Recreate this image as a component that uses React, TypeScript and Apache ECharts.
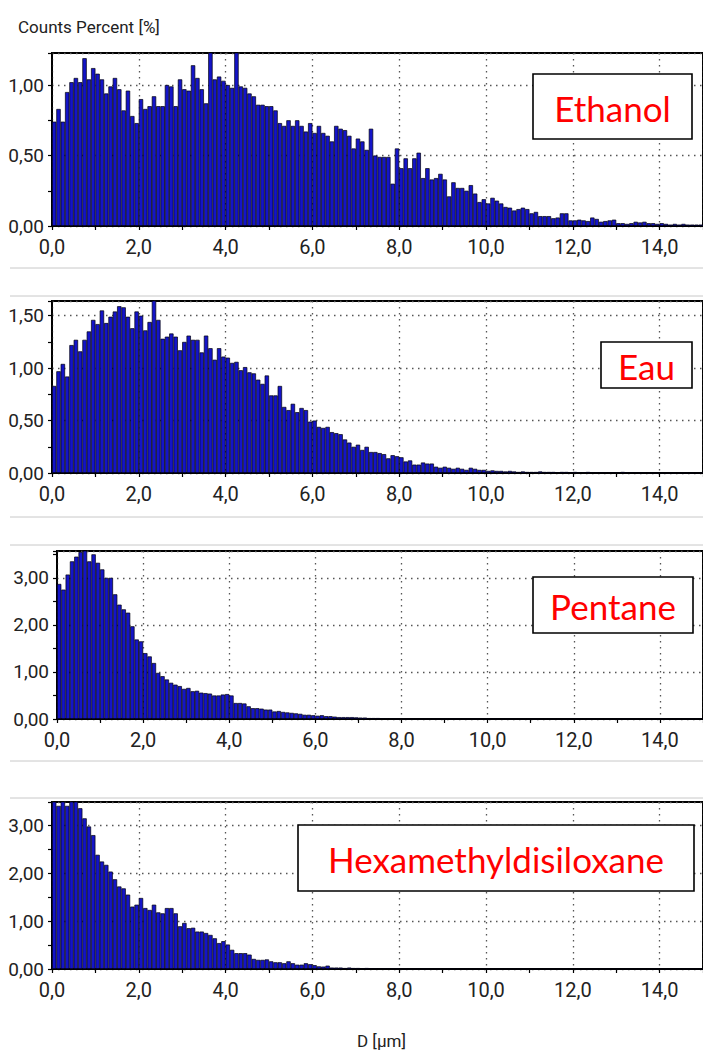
import React, { useEffect, useRef } from "react";
import * as echarts from "echarts";

// Particle size histograms, bin width 0.1 µm, from 0 to 15 µm
const BIN_WIDTH = 0.1;

const ethanol = [
  0.74, 0.83, 0.74, 0.95, 1.02, 1.05, 1.02, 1.19, 1.04, 1.12,
  1.08, 1.04, 0.94, 0.99, 1.05, 0.97, 0.82, 0.96, 0.78, 0.73,
  0.90, 0.83, 0.85, 0.92, 0.85, 0.85, 1.00, 0.99, 0.85, 1.04,
  0.97, 0.96, 1.14, 1.05, 0.97, 0.87, 1.30, 1.04, 1.06, 1.03,
  1.00, 0.98, 1.30, 0.99, 0.98, 0.94, 0.92, 0.86, 0.86, 0.85,
  0.85, 0.82, 0.73, 0.71, 0.75, 0.71, 0.75, 0.71, 0.67, 0.73,
  0.66, 0.71, 0.66, 0.64, 0.60, 0.71, 0.69, 0.68, 0.64, 0.55,
  0.62, 0.60, 0.54, 0.69, 0.50, 0.49, 0.49, 0.49, 0.30, 0.55,
  0.41, 0.48, 0.41, 0.48, 0.52, 0.34, 0.41, 0.33, 0.34, 0.37,
  0.33, 0.21, 0.31, 0.27, 0.27, 0.25, 0.29, 0.23, 0.17, 0.19,
  0.16, 0.20, 0.18, 0.16, 0.135, 0.13, 0.11, 0.12, 0.13, 0.12,
  0.09, 0.10, 0.07, 0.07, 0.07, 0.055, 0.06, 0.09, 0.09, 0.04,
  0.04, 0.045, 0.04, 0.035, 0.06, 0.05, 0.03, 0.035, 0.04, 0.045,
  0.02, 0.02, 0.015, 0.02, 0.03, 0.025, 0.03, 0.02, 0.02, 0.015,
  0.02, 0.015, 0.01, 0.015, 0.01, 0.015, 0.01, 0.01, 0.01, 0.01,
];

const eau = [
  0.83, 0.97, 1.04, 0.92, 1.22, 1.27, 1.16, 1.27, 1.35, 1.46,
  1.42, 1.55, 1.43, 1.49, 1.54, 1.59, 1.58, 1.49, 1.38, 1.54,
  1.50, 1.36, 1.44, 1.66, 1.46, 1.28, 1.30, 1.33, 1.30, 1.17,
  1.25, 1.31, 1.27, 1.27, 1.15, 1.31, 1.19, 1.08, 1.19, 1.11,
  1.10, 1.05, 1.06, 0.98, 1.01, 0.96, 0.95, 0.89, 0.85, 0.93,
  0.74, 0.74, 0.83, 0.63, 0.60, 0.66, 0.58, 0.62, 0.60, 0.49,
  0.50, 0.44, 0.43, 0.44, 0.39, 0.38, 0.37, 0.32, 0.29, 0.25,
  0.27, 0.22, 0.25, 0.20, 0.20, 0.19, 0.18, 0.14, 0.17, 0.16,
  0.15, 0.11, 0.12, 0.08, 0.08, 0.10, 0.09, 0.09, 0.06, 0.05,
  0.06, 0.05, 0.04, 0.05, 0.04, 0.03, 0.05, 0.04, 0.03, 0.03,
  0.02, 0.025, 0.02, 0.02, 0.015, 0.02, 0.015, 0.01, 0.015, 0.01,
  0.01, 0.01, 0.015, 0.01, 0.01, 0.01, 0.005, 0.01, 0.01, 0.005,
  0.01, 0.005, 0.005, 0.01, 0.005, 0.005, 0.005, 0.005, 0.005, 0.005,
  0.005, 0.01, 0.005, 0.005, 0.005, 0, 0.005, 0, 0, 0,
  0, 0, 0, 0, 0, 0, 0, 0, 0, 0,
];

const pentane = [
  2.87, 2.75, 3.07, 3.35, 3.45, 3.55, 3.70, 3.35, 3.50, 3.32,
  3.18, 3.00, 3.00, 2.65, 2.43, 2.33, 2.26, 1.97, 1.69, 1.65,
  1.40, 1.33, 1.19, 0.98, 0.91, 0.84, 0.77, 0.73, 0.70, 0.64,
  0.66, 0.59, 0.60, 0.56, 0.55, 0.54, 0.50, 0.50, 0.52, 0.53,
  0.50, 0.34, 0.34, 0.33, 0.27, 0.23, 0.23, 0.22, 0.20, 0.20,
  0.16, 0.17, 0.15, 0.14, 0.13, 0.12, 0.11, 0.09, 0.09, 0.08,
  0.07, 0.08, 0.06, 0.06, 0.05, 0.04, 0.04, 0.04, 0.04, 0.035,
  0.03, 0.03, 0.02, 0.02, 0.02, 0.015, 0.015, 0.01, 0.005, 0,
  0, 0, 0, 0, 0, 0, 0, 0, 0, 0,
  0, 0, 0, 0, 0, 0, 0, 0, 0, 0,
  0, 0, 0, 0, 0, 0, 0, 0, 0, 0,
  0, 0, 0, 0, 0, 0, 0, 0, 0, 0,
  0, 0, 0, 0, 0, 0, 0, 0, 0, 0,
  0, 0, 0, 0, 0, 0, 0, 0, 0, 0,
  0, 0, 0, 0, 0, 0, 0, 0, 0, 0,
];

const hexamethyldisiloxane = [
  3.60, 3.40, 3.60, 3.40, 3.60, 3.60, 3.35, 3.14, 2.97, 2.79,
  2.38, 2.24, 2.17, 2.03, 1.87, 1.72, 1.68, 1.55, 1.30, 1.34,
  1.48, 1.27, 1.23, 1.34, 1.18, 1.16, 1.27, 1.27, 1.16, 0.89,
  0.96, 0.85, 0.86, 0.78, 0.78, 0.75, 0.71, 0.64, 0.54, 0.58,
  0.51, 0.40, 0.33, 0.33, 0.33, 0.30, 0.21, 0.19, 0.19, 0.20,
  0.16, 0.14, 0.14, 0.12, 0.16, 0.12, 0.09, 0.09, 0.12, 0.10,
  0.08, 0.055, 0.05, 0.07, 0.03, 0.03, 0.03, 0.02, 0.03, 0.02,
  0.02, 0.01, 0.02, 0.015, 0.01, 0.01, 0.01, 0.015, 0.01, 0.01,
  0, 0, 0, 0, 0, 0, 0, 0, 0, 0,
  0, 0, 0, 0, 0, 0, 0, 0, 0, 0,
  0, 0, 0, 0, 0, 0, 0, 0, 0, 0,
  0, 0, 0, 0, 0, 0, 0, 0, 0, 0,
  0, 0, 0, 0, 0, 0, 0, 0, 0, 0,
  0, 0, 0, 0, 0, 0, 0, 0, 0, 0,
  0, 0, 0, 0, 0, 0, 0, 0, 0, 0,
];

const labels = ["Ethanol", "Eau", "Pentane", "Hexamethyldisiloxane"];
const yMax = [1.227, 1.64, 3.57, 3.48];
const yInterval = [0.5, 0.5, 1, 1];
const xMin = 0;
const xMax = 15;
const xInterval = 2;
const yTitle = "Counts Percent [%]";
const xTitle = "D [µm]";

const W = 703;
const H = 1051;
const grids = [
  { left: 52, top: 53, width: 657, height: 173 },
  { left: 52, top: 301, width: 657, height: 172 },
  { left: 57, top: 551, width: 654, height: 168 },
  { left: 52, top: 802, width: 657, height: 167 },
];
const boxes = [
  { x: 533, y: 74, w: 159, h: 65 },
  { x: 601, y: 342, w: 91, h: 46 },
  { x: 533, y: 577, w: 160, h: 56 },
  { x: 298, y: 825, w: 396, h: 66 },
];
const separators = [268, 296, 517, 545, 761, 798];

const FONT = "Roboto, 'Liberation Sans', sans-serif";

export default function App() {
  const ref = useRef<HTMLDivElement>(null);
  useEffect(() => {
    if (!ref.current) return;
    const chart = echarts.init(ref.current, undefined, { renderer: "svg" });
    const allSeries = [ethanol, eau, pentane, hexamethyldisiloxane];

    const xAxes = grids.map((_, i) => ({
      type: "value",
      gridIndex: i,
      min: xMin,
      max: xMax,
      interval: xInterval,
      position: "bottom",
      axisLine: { show: true, lineStyle: { color: "#000", width: 2 } },
      axisTick: { show: true, length: 4, lineStyle: { color: "#000", width: 1.2 } },
      minorTick: { show: true, splitNumber: 2, length: 4, lineStyle: { color: "#000", width: 1.2 } },
      axisLabel: {
        show: true,
        margin: 11,
        fontSize: 20,
        fontFamily: FONT,
        color: "#222",
        showMaxLabel: false,
        formatter: (v: number) => v.toFixed(1).replace(".", ","),
      },
      splitLine: { show: true, lineStyle: { color: "#555", width: 1.3, type: [1.5, 4.5] } },
      minorSplitLine: { show: false },
      z: 1,
    }));

    const yAxes = grids.map((_, i) => ({
      type: "value",
      gridIndex: i,
      min: 0,
      max: yMax[i],
      interval: yInterval[i],
      axisLine: { show: true, lineStyle: { color: "#000", width: 1.5 } },
      axisTick: { show: true, length: 4, lineStyle: { color: "#000", width: 1.2 } },
      minorTick: { show: true, splitNumber: 2, length: 4, lineStyle: { color: "#000", width: 1.2 } },
      axisLabel: {
        show: true,
        margin: 8,
        fontSize: 19,
        fontFamily: FONT,
        color: "#222",
        showMaxLabel: false,
        formatter: (v: number) => v.toFixed(2).replace(".", ","),
      },
      splitLine: { show: true, lineStyle: { color: "#555", width: 1.3, type: [1.5, 4.5] } },
      z: 1,
    }));

    const series = allSeries.map((vals, i) => ({
      type: "bar",
      xAxisIndex: i,
      yAxisIndex: i,
      data: vals.map((v, k) => [+(k * BIN_WIDTH + BIN_WIDTH / 2).toFixed(3), v]),
      barWidth: (grids[i].width / (xMax - xMin)) * BIN_WIDTH,
      clip: true,
      itemStyle: { color: "#1414c8", borderColor: "#00000c", borderWidth: 0.7 },
      z: 2,
    }));

    const graphics: any[] = [];
    separators.forEach((y) => {
      graphics.push({
        type: "line",
        shape: { x1: 10, y1: y, x2: W, y2: y },
        style: { stroke: "#c8c8c8", lineWidth: 1 },
        z: 0,
      });
    });
    boxes.forEach((b, i) => {
      graphics.push({
        type: "rect",
        shape: { x: b.x, y: b.y, width: b.w, height: b.h },
        style: { fill: "#fff", stroke: "#000", lineWidth: 1.6 },
        z: 10,
      });
      graphics.push({
        type: "text",
        x: b.x + b.w / 2,
        y: b.y + b.h / 2 + 1,
        style: {
          text: labels[i],
          fill: "#ff0000",
          font: "35px Lato, 'Open Sans', sans-serif",
          align: "center",
          verticalAlign: "middle",
        },
        z: 11,
      });
    });
    graphics.push({
      type: "text",
      x: 18,
      y: 27,
      style: { text: yTitle, fill: "#222", font: `17px ${FONT}`, verticalAlign: "middle" },
      z: 11,
    });
    graphics.push({
      type: "text",
      x: 357,
      y: 1041,
      style: { text: xTitle, fill: "#222", font: `17px ${FONT}`, verticalAlign: "middle" },
      z: 11,
    });

    chart.setOption({
      animation: false,
      backgroundColor: "#fff",
      grid: grids.map((g) => ({
        ...g,
        show: true,
        borderColor: "#000",
        borderWidth: 2,
        backgroundColor: "transparent",
        containLabel: false,
      })),
      xAxis: xAxes,
      yAxis: yAxes,
      series,
      graphic: graphics,
    } as any);

    return () => chart.dispose();
  }, []);

  return (
    <div
      ref={ref}
      style={{ position: "absolute", left: 0, top: 0, width: W, height: H }}
    />
  );
}
